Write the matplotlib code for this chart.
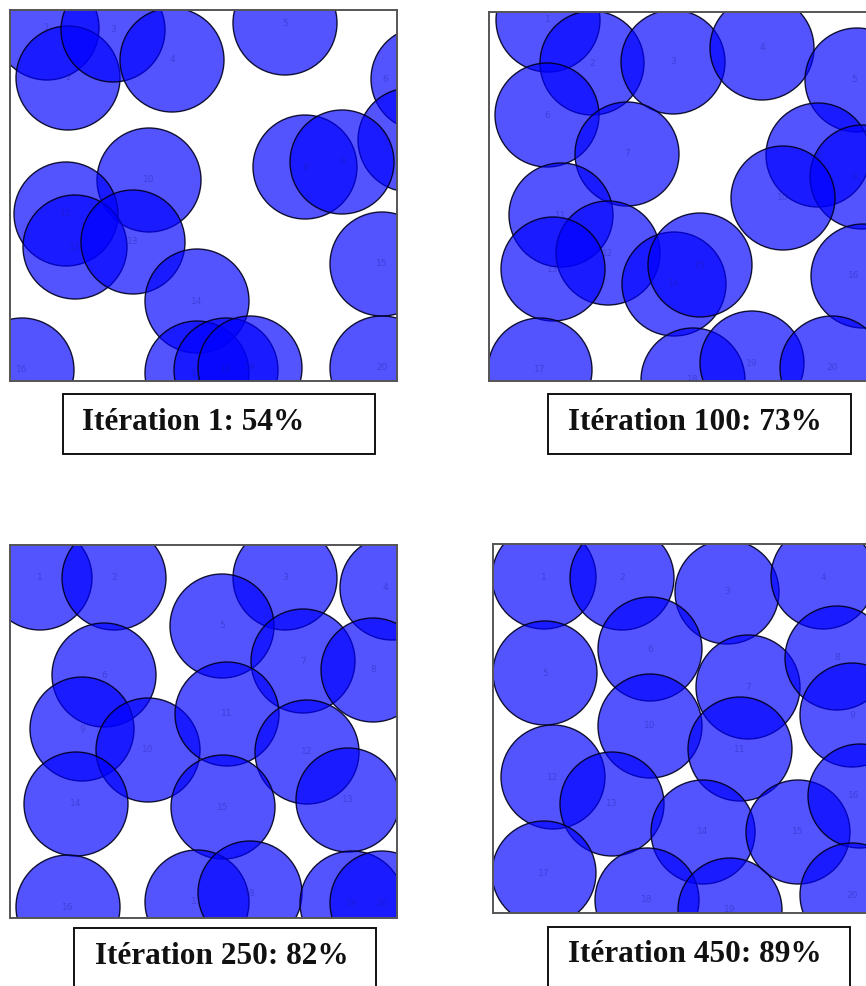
import matplotlib
matplotlib.use("Agg")
import matplotlib.pyplot as plt
from matplotlib.patches import Circle, Rectangle

W, H = 866, 986
RADIUS = 52

captions = ["Itération 1: 54%", "Itération 100: 73%",
            "Itération 250: 82%", "Itération 450: 89%"]

# circle centres (local panel units, origin top-left)
p1_x = [37, 58, 103, 162, 275, 413, 400, 295, 332, 139, 56, 65, 123, 187, 372, 12, 187, 216, 240, 372]
p1_y = [18, 68, 20, 50, 13, 69, 130, 157, 152, 170, 204, 237, 232, 291, 254, 360, 363, 360, 358, 358]

p2_x = [59, 103, 184, 273, 368, 58, 138, 329, 373, 294, 72, 119, 64, 185, 211, 374, 51, 204, 263, 343]
p2_y = [8, 51, 50, 36, 68, 103, 142, 143, 165, 186, 203, 241, 257, 272, 253, 264, 358, 368, 351, 356]

p3_x = [30, 104, 275, 382, 212, 94, 293, 363, 72, 138, 217, 297, 338, 66, 213, 58, 187, 240, 342, 372]
p3_y = [33, 33, 33, 43, 81, 130, 116, 125, 184, 205, 169, 207, 255, 259, 262, 362, 357, 348, 358, 358]

p4_x = [51, 129, 234, 330, 52, 157, 255, 344, 359, 157, 247, 60, 119, 210, 305, 367, 51, 154, 237, 359]
p4_y = [33, 34, 48, 33, 129, 105, 143, 114, 171, 182, 205, 233, 260, 288, 288, 252, 329, 356, 366, 351]

labels = [str(i) for i in range(1, 21)]

panels = [(p1_x, p1_y), (p2_x, p2_y), (p3_x, p3_y), (p4_x, p4_y)]

# layout (pixels): left, top, width, height of each panel box
boxes = [(10, 10, 387, 371), (489, 12, 387, 369), (10, 545, 387, 373), (493, 544, 387, 369)]
cap_boxes = [(63, 394, 312, 60), (548, 394, 303, 60), (74, 928, 302, 60), (548, 927, 302, 60)]
cap_text_x = [82, 568, 95, 568]

fig = plt.figure(figsize=(W / 100, H / 100), dpi=100)

for (xs, ys), (bl, bt, bw, bh) in zip(panels, boxes):
    ax = fig.add_axes([bl / W, 1 - (bt + bh) / H, bw / W, bh / H])
    ax.set_xlim(0, bw)
    ax.set_ylim(bh, 0)
    ax.set_xticks([])
    ax.set_yticks([])
    for s in ax.spines.values():
        s.set_color("#555555")
        s.set_linewidth(1.4)
    visible_right = min(bw, W - bl) - 12
    for x, y, lab in zip(xs, ys, labels):
        c = Circle((x, y), RADIUS, facecolor=(0.0, 0.0, 1.0, 0.67),
                   edgecolor=(0.0, 0.0, 0.12, 0.9), linewidth=1.0)
        ax.add_patch(c)
        ax.text(min(x, visible_right), y, lab, ha="center", va="center",
                fontsize=6.5, color=(0.1, 0.1, 0.6, 0.35), clip_on=True)

for (cl, ct, cw, ch), tx, txt in zip(cap_boxes, cap_text_x, captions):
    fig.patches.append(Rectangle((cl / W, 1 - (ct + ch) / H), cw / W, ch / H,
                                 transform=fig.transFigure, fill=False,
                                 edgecolor="#111111", linewidth=1.4))
    fig.text(tx / W, 1 - (ct + 28) / H, txt, ha="left", va="center",
             fontsize=22.5, fontweight="bold", family="Liberation Serif",
             color="#111111")

fig.savefig("out.png", dpi=100)
